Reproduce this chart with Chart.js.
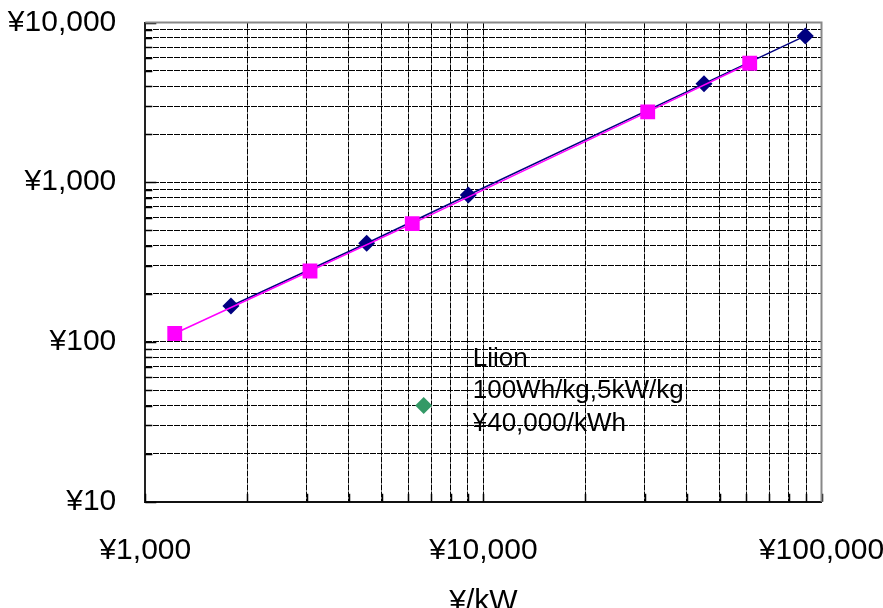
<!DOCTYPE html>
<html>
<head>
<meta charset="utf-8">
<script src="https://cdn.jsdelivr.net/npm/chart.js@4/dist/chart.umd.min.js"></script>
<style>
  html, body { margin: 0; padding: 0; background: #fff; }
  #wrap { width: 883px; height: 608px; position: relative; }
</style>
</head>
<body>
<div id="wrap"><canvas id="costChart"></canvas></div>
<script>
// tick positions (log grid: 1..9 in each decade) and the labelled ones
const xTicks = [1000, 2000, 3000, 4000, 5000, 6000, 7000, 8000, 9000,
                10000, 20000, 30000, 40000, 50000, 60000, 70000, 80000, 90000, 100000];
const yTicks = [10, 20, 30, 40, 50, 60, 70, 80, 90,
                100, 200, 300, 400, 500, 600, 700, 800, 900,
                1000, 2000, 3000, 4000, 5000, 6000, 7000, 8000, 9000, 10000];
const xLabelValues = [1000, 10000, 100000];
const xLabelTexts = ['¥1,000', '¥10,000', '¥100,000'];
const yLabelValues = [10, 100, 1000, 10000];
const yLabelTexts = ['¥10', '¥100', '¥1,000', '¥10,000'];

// series
const diamondKW = [1792, 4516, 9023, 44930, 89550];
const diamondCost = [168, 415, 832, 4143, 8245];
const squareKW = [1222, 3070, 6160, 30620, 61330];
const squareCost = [113, 278, 551, 2755, 5561];
const liionKW = [6660];
const liionCost = [40];

const noteLines = ['Liion', '100Wh/kg,5kW/kg', '¥40,000/kWh'];
const noteAnchor = { x: 9300, y: 71 };

const FONT = "'Liberation Sans', Arial, sans-serif";

function toPoints(xs, ys) {
    return xs.map((x, i) => ({ x: x, y: ys[i] }));
}

function labelFor(values, texts, v) {
    const i = values.indexOf(v);
    return i >= 0 ? texts[i] : '';
}

// gray frame on top/right, small inward tick marks, and the text note
const framePlugin = {
    id: 'frame',
    afterDatasetsDraw(chart) {
        const ctx = chart.ctx;
        const a = chart.chartArea;
        const xs = chart.scales.x;
        const ys = chart.scales.y;
        ctx.save();

        ctx.strokeStyle = '#000';
        ctx.lineWidth = 1.5;
        ctx.beginPath();
        yTicks.forEach(v => {
            const py = Math.round(ys.getPixelForValue(v)) + 0.5;
            const len = yLabelValues.includes(v) ? 11 : 7;
            ctx.moveTo(a.left, py);
            ctx.lineTo(a.left + len, py);
        });
        xTicks.forEach(v => {
            const px = Math.round(xs.getPixelForValue(v)) + 0.5;
            ctx.moveTo(px, a.bottom);
            ctx.lineTo(px, a.bottom - 8);
        });
        ctx.stroke();

        ctx.strokeStyle = '#888';
        ctx.lineWidth = 2;
        ctx.beginPath();
        ctx.moveTo(a.left, a.top);
        ctx.lineTo(a.right, a.top);
        ctx.lineTo(a.right, a.bottom);
        ctx.stroke();

        ctx.fillStyle = '#000';
        ctx.font = '26px ' + FONT;
        ctx.textAlign = 'left';
        ctx.textBaseline = 'alphabetic';
        const nx = xs.getPixelForValue(noteAnchor.x);
        const ny = ys.getPixelForValue(noteAnchor.y);
        noteLines.forEach((line, i) => {
            ctx.fillText(line, nx, ny + i * 32.5);
        });
        ctx.restore();
    }
};

const ctx = document.getElementById('costChart').getContext('2d');
new Chart(ctx, {
    type: 'scatter',
    data: {
        datasets: [
            {
                label: 'A',
                data: toPoints(diamondKW, diamondCost),
                showLine: true,
                borderColor: '#000080',
                backgroundColor: '#000080',
                borderWidth: 1.5,
                pointStyle: 'rectRot',
                pointRadius: 8.5,
                pointBorderWidth: 0,
                order: 1
            },
            {
                label: 'B',
                data: toPoints(squareKW, squareCost),
                showLine: true,
                borderColor: '#ff00ff',
                backgroundColor: '#ff00ff',
                borderWidth: 1.5,
                pointStyle: 'rect',
                pointRadius: 10.5,
                pointBorderWidth: 0,
                order: 0
            },
            {
                label: 'Liion',
                data: toPoints(liionKW, liionCost),
                showLine: false,
                borderColor: '#339966',
                backgroundColor: '#339966',
                pointStyle: 'rectRot',
                pointRadius: 8.5,
                pointBorderWidth: 0,
                order: 2
            }
        ]
    },
    options: {
        responsive: true,
        maintainAspectRatio: false,
        animation: false,
        events: [],
        layout: {
            padding: { top: 22.5, right: 61.5, left: 0, bottom: 0 }
        },
        plugins: {
            legend: { display: false },
            tooltip: { enabled: false }
        },
        scales: {
            x: {
                type: 'logarithmic',
                min: 1000,
                max: 100000,
                afterBuildTicks: scale => {
                    scale.ticks = xTicks.map(v => ({ value: v }));
                },
                afterFit: scale => {
                    scale.height = 106.3;
                    scale.paddingLeft = 0;
                    scale.paddingRight = 0;
                },
                grid: {
                    color: '#000',
                    lineWidth: 1,
                    drawTicks: false
                },
                border: { display: true, color: '#111', width: 2, dash: [6, 1] },
                ticks: {
                    autoSkip: false,
                    maxRotation: 0,
                    padding: 31,
                    color: '#000',
                    font: { family: FONT, size: 30 },
                    callback: v => labelFor(xLabelValues, xLabelTexts, v)
                },
                title: {
                    display: true,
                    text: '¥/kW',
                    color: '#000',
                    font: { family: FONT, size: 30, lineHeight: 0.4 },
                    padding: 0
                }
            },
            y: {
                type: 'logarithmic',
                min: 10,
                max: 10000,
                afterBuildTicks: scale => {
                    scale.ticks = yTicks.map(v => ({ value: v }));
                },
                afterFit: scale => {
                    scale.width = 145.3;
                    scale.paddingTop = 0;
                    scale.paddingBottom = 0;
                },
                grid: {
                    color: '#000',
                    lineWidth: 1,
                    drawTicks: false
                },
                border: { display: true, color: '#222', width: 2, dash: [6, 1] },
                ticks: {
                    autoSkip: false,
                    padding: 29,
                    color: '#000',
                    font: { family: FONT, size: 30 },
                    callback: v => labelFor(yLabelValues, yLabelTexts, v)
                }
            }
        }
    },
    plugins: [framePlugin]
});
</script>
</body>
</html>
